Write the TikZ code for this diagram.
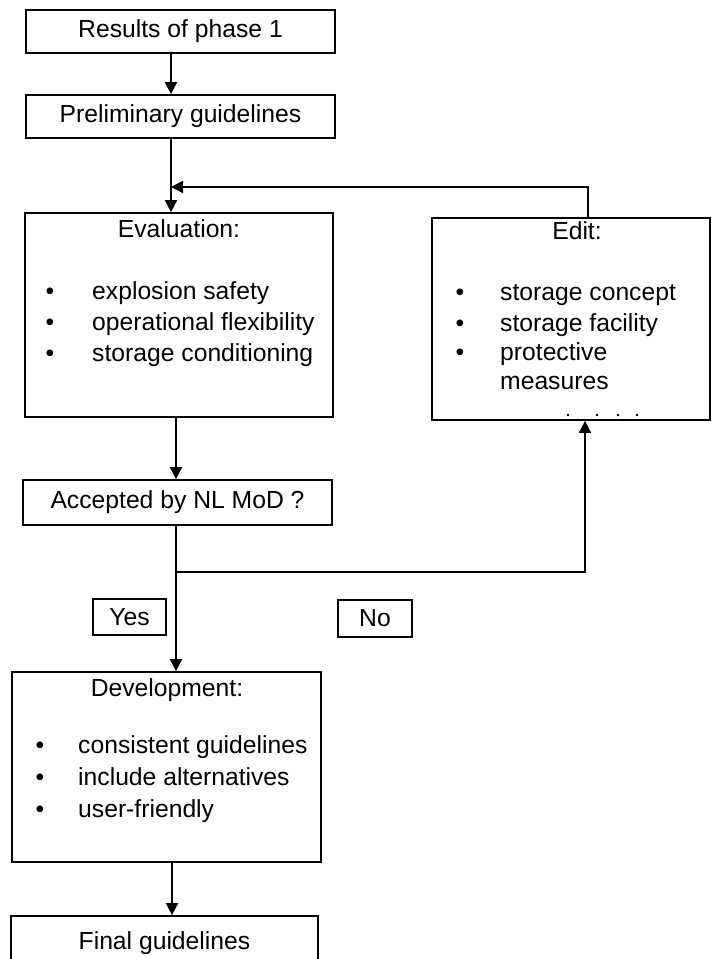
\documentclass[tikz,border=0pt]{standalone}
\usepackage{fontspec}
\setmainfont{Liberation Sans}
\usetikzlibrary{arrows.meta}
\tikzset{
  box/.style={draw, line width=1.7pt, inner sep=0pt},
  txt/.style={inner sep=0pt, text height=0.72em, text depth=0.2em},
  arr/.style={line width=1.6pt, -{Triangle[length=12pt,width=12pt]}}
}
\begin{document}
\begin{tikzpicture}[x=1pt,y=-1pt, font=\fontsize{24.7}{30}\selectfont]
\useasboundingbox (0,0) rectangle (712,959);
\clip (0,0) rectangle (712,959);

% boxes
\node[box, minimum width=309, minimum height=43] (res) at (180.5,31.5) {Results of phase 1};
\node[box, minimum width=309, minimum height=43] (pre) at (180.5,116.5) {Preliminary guidelines};
\node[box, minimum width=308, minimum height=204] (eval) at (179,315) {};
\node[box, minimum width=278, minimum height=202] (edit) at (571,319) {};
\node[box, minimum width=309, minimum height=45] (acc) at (177.5,502.5) {Accepted by NL MoD ?};
\node[box, minimum width=73, minimum height=36] (yes) at (129.5,617) {Yes};
\node[box, minimum width=74, minimum height=37] (no) at (375,618.5) {No};
\node[box, minimum width=309, minimum height=190] (dev) at (166.5,767) {};
\node[box, minimum width=307, minimum height=54] (fin) at (164.5,943) {Final guidelines};

% titles
\node[txt] (evt) at (179,235) {Evaluation:};
\node[txt] (edt) at (577,237) {Edit:};
\node[txt] (dvt) at (167,694) {Development:};

% bullet lists
\foreach \y/\ytext in {297/explosion safety,328/operational flexibility,359/storage conditioning}{
\node[txt] (bul) at (50,\y) {\textbullet};
\node[txt, anchor=west] (itm) at (92,\y) {\ytext};
}
\foreach \y/\ytext in {298/storage concept,329/storage facility,358/protective}{
\node[txt] (bul) at (460,\y) {\textbullet};
\node[txt, anchor=west] (itm) at (500,\y) {\ytext};
}
\node[txt, anchor=west] (mea) at (500,387) {measures};
\foreach \a in {568,597,618,637}
\fill (\a,415) circle (1.4);
\foreach \y/\ytext in {751/consistent guidelines,783/include alternatives,815/user-friendly}{
\node[txt] (bul) at (40,\y) {\textbullet};
\node[txt, anchor=west] (itm) at (78,\y) {\ytext};
}

% connectors
\coordinate (sa) at (171,0);
\coordinate (sb) at (176,0);
\coordinate (sc) at (172,0);
\coordinate (fb) at (588,0);
\coordinate (nb) at (585,0);
\coordinate (jn) at (171,187);
\coordinate (br) at (176,572);

\draw[arr] (sa |- res.south) -- (sa |- pre.north);
\draw[arr] (sa |- pre.south) -- (sa |- eval.north);
\draw[arr] (fb |- edit.north) |- (jn);
\draw[arr] (sb |- eval.south) -- (sb |- acc.north);
\draw[arr] (sb |- acc.south) -- (sb |- dev.north);
\draw[arr] (br) -| (nb |- edit.south);
\draw[arr] (sc |- dev.south) -- (sc |- fin.north);

\end{tikzpicture}
\end{document}
